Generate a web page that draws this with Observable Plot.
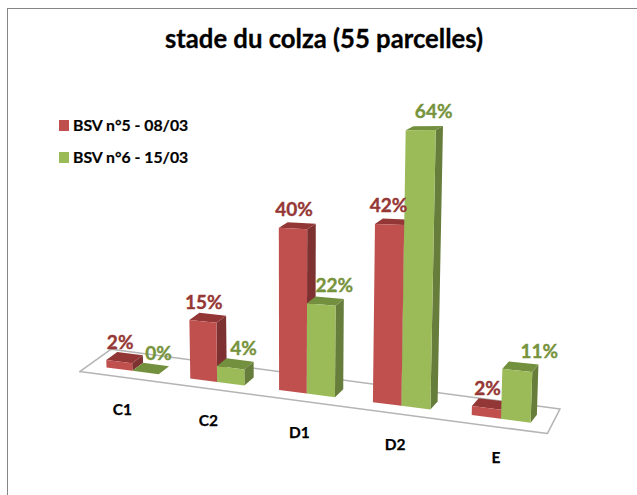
<!DOCTYPE html>
<html lang="fr">
<head>
<meta charset="utf-8">
<script src="https://cdn.jsdelivr.net/npm/d3@7"></script>
<script src="https://cdn.jsdelivr.net/npm/@observablehq/plot@0.6"></script>
<style>
html,body{margin:0;padding:0;background:#fff;overflow:hidden}
#page{position:relative;width:637px;height:495px;font-family:Lato,sans-serif;font-weight:700;color:#000}
#frame{position:absolute;left:7px;top:8px;width:640px;height:500px;border:1.5px solid #868686;box-sizing:border-box}
#title{position:absolute;left:0;width:648px;top:22px;text-align:center;font-size:25.7px;line-height:32px;margin:0;font-weight:700;-webkit-text-stroke:0.3px #000}
.lg{position:absolute;left:59px;display:flex;align-items:center;font-size:15.8px;line-height:16px;white-space:nowrap;-webkit-text-stroke:0.2px #000}
.lg i{display:block;width:10px;height:11px;margin-right:4px}
#chart{position:absolute;left:0;top:0}
svg{display:block}
</style>
</head>
<body>
<div id="page">
  <div id="frame"></div>
  <div id="chart"></div>
  <h1 id="title"></h1>
  <div id="legend"></div>
</div>
<script>
const chartTitle = "stade du colza (55 parcelles)";
const categories = ["C1", "C2", "D1", "D2", "E"];
const seriesNames = ["BSV n°5 - 08/03", "BSV n°6 - 15/03"];
const bsv5 = [2, 15, 40, 42, 2];
const bsv6 = [0, 4, 22, 64, 11];

const palette = [
  {front: "#c0504d", side: "#7d3130", top: "#923735", text: "#953735"},
  {front: "#9bbb59", side: "#667d3b", top: "#73903f", text: "#77933c"}
];

// Perspective model of the 3-D column chart: u runs along the floor (one unit
// per category), d across a column's depth, h is the value in percent.
function project(u, d, h) {
  const X = 106 + 81.3 * u + 2.5 * u * u;
  const Y = 367 + 0.13 * (X - 106);
  const perPercent = 3.78 + 0.1 * u + 0.018 * u * u;
  const lean = 0.0006 * (X - 290) * h;
  const depthX = 11 - 1.05 * u;
  const depthY = 8 - 4 * h / 64;
  return [X + lean + d * depthX, Y - perPercent * h - d * depthY];
}

const barWidthAt = i => 0.315 - 0.007 * i;
const faces = [];
const labels = [];
function addFace(id, fill, corners) {
  for (const [u, d, h] of corners) {
    const [x, y] = project(u, d, h);
    faces.push({face: id, fill, x, y});
  }
}
categories.forEach((cat, i) => {
  const w = barWidthAt(i);
  [bsv5, bsv6].forEach((series, s) => {
    const v = series[i];
    const u0 = i + s * w, u1 = u0 + w;
    const c = palette[s], id = `${cat}-${s}`;
    addFace(id + "-side", c.side, [[u1,0,0],[u1,1,0],[u1,1,v],[u1,0,v]]);
    addFace(id + "-top", c.top, [[u0,0,v],[u0,1,v],[u1,1,v],[u1,0,v]]);
    addFace(id + "-front", c.front, [[u0,0,0],[u1,0,0],[u1,0,v],[u0,0,v]]);
    const [x, y] = project((u0 + u1) / 2, 0, v);
    const shift = s === 0 ? (cat === "D2" ? -1 : 1) : (cat === "E" ? 22 : 13);
    labels.push({text: v + "%", x: x + shift, y: y - 18.5, fill: c.text});
  });
});

const floorCorners = [[-0.22,-0.8],[4.79,-1],[4.74,2],[-0.22,2],[-0.22,-0.8]];
const floor = floorCorners.map(([u, d]) => {
  const [x, y] = project(u, d, 0);
  return {x, y};
});

const catLabels = categories.map((text, i) => {
  const [x, y] = project(i + barWidthAt(i), 0, 0);
  return {text, x: x - 10 + 1.25 * i, y: y + 39};
});

const plot = Plot.plot({
  width: 637,
  height: 495,
  margin: 0,
  axis: null,
  x: {domain: [0, 637], range: [0, 637]},
  y: {domain: [0, 495], range: [0, 495]},
  marks: [
    Plot.line(floor, {x: "x", y: "y", fill: "#fff", stroke: "#b4b4b4", strokeWidth: 1.5}),
    Plot.line(faces, {x: "x", y: "y", z: "face", fill: "fill", stroke: null}),
    Plot.text(labels, {x: "x", y: "y", text: "text", fill: "fill", stroke: "fill", strokeWidth: 0.35, fontSize: 19, fontWeight: 700, fontFamily: "Lato"}),
    Plot.text(catLabels, {x: "x", y: "y", text: "text", fill: "#000", stroke: "#000", strokeWidth: 0.25, fontSize: 15.5, fontWeight: 700, fontFamily: "Lato"})
  ]
});
plot.style.background = "transparent";
document.getElementById("chart").append(plot);
document.getElementById("title").textContent = chartTitle;
const legend = document.getElementById("legend");
seriesNames.forEach((name, i) => {
  const row = document.createElement("div");
  row.className = "lg";
  row.style.top = (117 + i * 32) + "px";
  const swatch = document.createElement("i");
  swatch.style.background = palette[i].front;
  row.append(swatch, name);
  legend.append(row);
});
</script>
</body>
</html>
